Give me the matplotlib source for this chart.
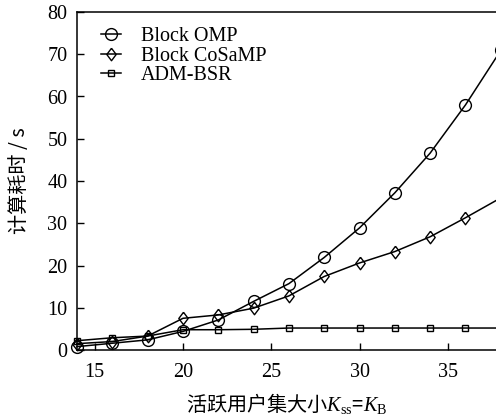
import numpy as np
import matplotlib.pyplot as plt

plt.rcParams['font.family'] = ['Liberation Serif', 'Noto Sans CJK SC']
plt.rcParams['mathtext.fontset'] = 'custom'
plt.rcParams['mathtext.rm'] = 'Liberation Serif'
plt.rcParams['mathtext.it'] = 'Liberation Serif:italic'

# data
k = [14, 16, 18, 20, 22, 24, 26, 28, 30, 32, 34, 36, 38]
omp = [0.8, 1.6, 2.4, 4.4, 7.1, 11.5, 15.7, 21.9, 28.9, 37.2, 46.6, 58.0, 70.9]
cosamp = [1.5, 2.0, 3.3, 7.5, 8.3, 9.9, 12.8, 17.4, 20.6, 23.3, 26.8, 31.3, 36.0]
admbsr = [2.2, 2.9, 3.3, 4.8, 4.8, 4.9, 5.2, 5.2, 5.2, 5.2, 5.2, 5.2, 5.2]

diamond = [(0, 1), (0.75, 0), (0, -1), (-0.75, 0), (0, 1)]

fig = plt.figure(figsize=(4.96, 4.19), dpi=100)
ax = fig.add_axes([77/496, 1 - 350/419, 1 - 77/496, 338/419])

ax.plot(k, omp, '-', marker='o', color='black', lw=1.1, ms=8.5, mfc='none', mec='black', mew=1.0,
        label='Block OMP', clip_on=False)
ax.plot(k, cosamp, '-', marker=diamond, color='black', lw=1.1, ms=9, mfc='none', mec='black', mew=1.0,
        label='Block CoSaMP', clip_on=False)
ax.plot(k, admbsr, '-', marker='s', color='black', lw=1.1, ms=5, mfc='none', mec='black', mew=1.0,
        label='ADM-BSR', clip_on=False)

ax.set_xlim(14, 37.73)
ax.set_ylim(0, 80)
ax.set_xticks([15, 20, 25, 30, 35])
ax.set_yticks(np.arange(0, 81, 10))
ax.tick_params(direction='in', length=5, width=1.0, labelsize=14.5)
ax.tick_params(axis='x', pad=9)
ax.tick_params(axis='y', pad=7)
ax.spines['right'].set_visible(False)
for s in ['left', 'bottom', 'top']:
    ax.spines[s].set_linewidth(1.1)

ax.set_xlabel('活跃用户集大小$K_{\\rm ss}$=$K_{\\rm B}$', fontsize=14.5,
              family=['Noto Sans CJK SC', 'Liberation Serif'], labelpad=7)
ax.set_ylabel('计算耗时 / s', fontsize=14.5,
              family=['Noto Sans CJK SC', 'Liberation Serif'], labelpad=12)

ax.legend(loc='upper left', bbox_to_anchor=(0.057, 0.955), frameon=False,
          fontsize=14.5, handlelength=1.0, handletextpad=1.0, labelspacing=0.02,
          borderpad=0, borderaxespad=0)

fig.savefig('out.png', dpi=100)
